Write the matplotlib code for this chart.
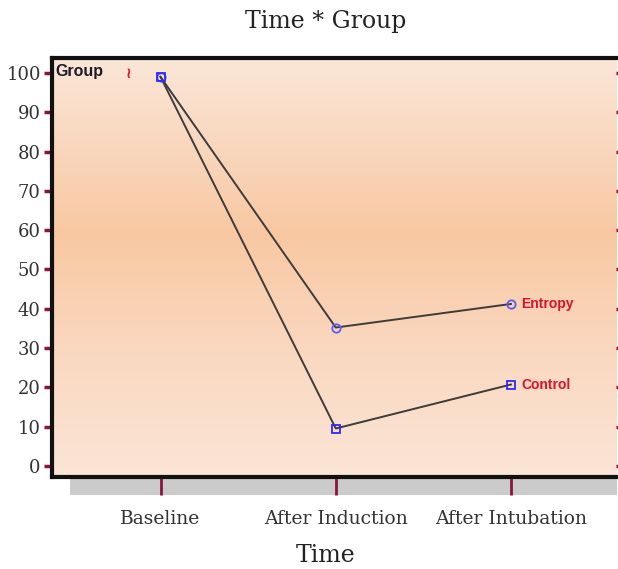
import numpy as np
import matplotlib.pyplot as plt
from matplotlib.colors import LinearSegmentedColormap
from matplotlib.patches import Rectangle

# data
time_points = ['Baseline', 'After Induction', 'After Intubation']
entropy_vals = [99.0, 35.2, 41.2]
control_vals = [99.0, 9.5, 20.7]
y_ticks = [0, 10, 20, 30, 40, 50, 60, 70, 80, 90, 100]

serif = ['DejaVu Serif']
maroon = '#8c1240'

fig = plt.figure(figsize=(6.18, 5.69), dpi=100)
ax = fig.add_axes([0.084, 0.162, 0.913, 0.736])

x = np.arange(len(time_points))
ax.set_xlim(-0.62, 2.6)
ax.set_ylim(-2.8, 103.8)

# peach gradient background (light top/bottom, deeper a bit above the middle)
bg = LinearSegmentedColormap.from_list(
    'peach', [(0.0, '#fbe6d7'), (0.2, '#f9d8bf'), (0.42, '#f8c8a2'),
              (0.7, '#fad8c0'), (1.0, '#fbe5d6')])
grad = np.linspace(0, 1, 256).reshape(-1, 1)
ax.imshow(grad, cmap=bg, aspect='auto', extent=[-0.62, 2.6, -2.8, 103.8], origin='upper', zorder=0)

ax.plot(x, entropy_vals, '-', color='#3c3c3c', lw=1.4, zorder=2)
ax.plot(x, control_vals, '-', color='#3c3c3c', lw=1.4, zorder=2)
ax.plot(x, entropy_vals, 'o', ms=6, mfc='none', mec='#5a5aff', mew=1.3, zorder=3)
ax.plot(x, control_vals, 's', ms=6, mfc='none', mec='#2a2aff', mew=1.3, zorder=3)

ax.text(x[-1] + 0.06, entropy_vals[-1], 'Entropy', color='#e0102a', fontsize=10,
        fontweight='bold', family='Liberation Sans', va='center', zorder=4)
ax.text(x[-1] + 0.06, control_vals[-1], 'Control', color='#e0102a', fontsize=10,
        fontweight='bold', family='Liberation Sans', va='center', zorder=4)
ax.text(-0.6, 100.5, 'Group', color='#1a1a2a', fontsize=11.5, fontweight='bold',
        family='Liberation Sans', va='center', zorder=4)
ax.text(-0.2, 99.8, '≀', color='#e0102a', fontsize=11, fontweight='bold', va='center', zorder=4)

ax.set_yticks(y_ticks)
ax.set_yticklabels([str(v) for v in y_ticks], family=serif, fontsize=13, color='#333333')
ax.set_xticks(x)
ax.set_xticklabels(time_points, family=serif, fontsize=13.5, color='#333333')
ax.tick_params(axis='y', direction='out', length=6, width=2.5, color=maroon, pad=2)
ax.tick_params(axis='x', direction='out', length=13, width=2, color=maroon, pad=11)
ax.tick_params(axis='y', which='both', right=True, labelright=False)

for s in ['left', 'top', 'bottom']:
    ax.spines[s].set_linewidth(3)
    ax.spines[s].set_color('#111111')
ax.spines['right'].set_visible(False)

# gray shadow below the frame, drawn behind the axes
shadow = Rectangle((0.113, 0.13), 0.885, 0.028, transform=fig.transFigure,
                   facecolor='#cbcbcb', edgecolor='none', zorder=-1)
fig.patches.append(shadow)

fig.text(0.527, 0.962, 'Time * Group', family=serif, fontsize=17, ha='center', va='center', color='#222222')
fig.text(0.527, 0.024, 'Time', family=serif, fontsize=17, ha='center', va='center', color='#222222')

plt.savefig('out.png', dpi=100)
